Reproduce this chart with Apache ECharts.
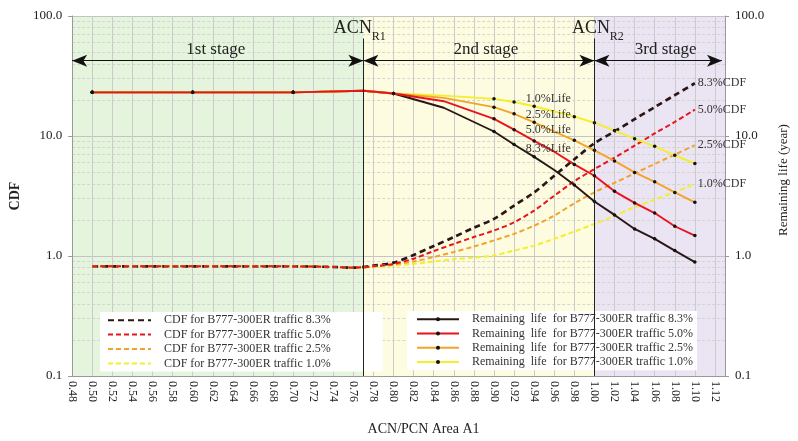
<!DOCTYPE html>
<html><head><meta charset="utf-8">
<script src="https://cdn.jsdelivr.net/npm/echarts@6/dist/echarts.min.js"></script>
<style>html,body{margin:0;padding:0;background:#fff}#c{width:798px;height:441px}</style>
</head><body><div id="c"></div>
<script>
const FONT = "'Liberation Serif','Times New Roman',serif";

// ---- data ----
const cdfX   = [0.50,0.60,0.70,0.74,0.76,0.78,0.80,0.82,0.84,0.86,0.88,0.90,0.92,0.94,0.96,0.98,1.00,1.02,1.04,1.06,1.08,1.10];
const cdf83  = [0.82,0.82,0.82,0.81,0.80,0.83,0.88,1.02,1.21,1.44,1.72,2.04,2.63,3.39,4.66,6.4,8.7,10.9,13.8,17.4,21.9,27.5];
const cdf50  = [0.82,0.82,0.82,0.81,0.80,0.82,0.86,0.95,1.10,1.26,1.44,1.63,1.91,2.39,3.18,4.2,5.3,6.6,8.3,10.5,13.1,16.6];
const cdf25  = [0.82,0.82,0.82,0.81,0.80,0.82,0.85,0.90,0.98,1.08,1.20,1.35,1.53,1.79,2.17,2.75,3.39,4.07,4.88,5.85,7.0,8.4];
const cdf10  = [0.82,0.82,0.82,0.81,0.80,0.81,0.83,0.86,0.90,0.94,0.97,1.01,1.11,1.22,1.39,1.60,1.85,2.16,2.55,2.95,3.4,3.97];

const lifeX  = [0.50,0.60,0.70,0.77,0.80,0.85,0.90,0.92,0.94,0.96,0.98,1.00,1.02,1.04,1.06,1.08,1.10];
const life83 = [23.1,23.1,23.1,23.8,22.6,17.2,10.9,8.5,6.7,5.2,3.9,2.85,2.2,1.68,1.39,1.11,0.89];
const life50 = [23.1,23.1,23.1,23.8,22.6,19.5,13.9,11.3,9.1,7.4,5.8,4.66,3.46,2.77,2.28,1.77,1.48];
const life25 = [23.1,23.1,23.1,23.8,22.6,20.8,17.4,15.3,13.0,10.9,9.2,7.6,6.2,4.97,4.15,3.39,2.80];
const life10 = [23.1,23.1,23.1,23.8,22.6,21.7,20.4,19.2,17.7,16.0,14.5,12.9,11.1,9.5,8.2,6.9,5.9];
const lifeNoDotX = [0.77,0.85,0.96];

const cdfNames  = ['CDF for B777-300ER traffic 8.3%','CDF for B777-300ER traffic 5.0%','CDF for B777-300ER traffic 2.5%','CDF for B777-300ER traffic 1.0%'];
const lifeNames = ['Remaining  life  for B777-300ER traffic 8.3%','Remaining  life  for B777-300ER traffic 5.0%','Remaining  life  for B777-300ER traffic 2.5%','Remaining  life  for B777-300ER traffic 1.0%'];
const cdfEndLabels = ['8.3%CDF','5.0%CDF','2.5%CDF','1.0%CDF'];
const lifeLabels = ['1.0%Life','2.5%Life','5.0%Life','8.3%Life'];
const lifeLabelX = 0.954;
const lifeLabelY = [20.5,14.9,11.2,7.75];

const stageLabels = ['1st stage','2nd stage','3rd stage'];
const stageLabelX = [0.623,0.892,1.071];
const stageLabelY = 53;
const stageBounds = [0.48,0.77,1.00,1.127];
const arrowY = 42.4;
const acnX = [0.77,1.00];
const acnSub = ['R1','R2'];
const acnTextX = [0.7595,0.9965];
const acnSubX = [0.7852,1.0222];
const acnTextY = 78.7, acnSubY = 67.6, acnLineTop = 65;

const colors = ['#2a1616','#e8141c','#f2a42a','#f4ee2c'];
const drawOrder = [4.1, 4.4, 4.3, 4.2];   // red on top where lines coincide
const bands = [[0.48,0.77,'#e5f4dc'],[0.77,1.00,'#fdfbe0'],[1.00,1.13,'#ebe4f3']];
const minorY = [];
[0.1,1,10].forEach(d=>{for(let k=2;k<=9;k++) minorY.push(+(d*k).toFixed(2));});

// ---- build ----
const pairs = (xs, ys) => xs.map((x,i)=>[x,ys[i]]);
const series = [];

series.push({
  type:'line', data:[], silent:true, z:0,
  markArea:{silent:true, z:0, itemStyle:{opacity:1},
    data: bands.map(b=>[{xAxis:b[0], itemStyle:{color:b[2]}},{xAxis:b[1]}])},
  markLine:{silent:true, z:1, symbol:'none', label:{show:false},
    lineStyle:{color:'#cdcdcd', width:0.8, type:[3,2]},
    data: minorY.map(v=>({yAxis:v}))}
});

[cdf83,cdf50,cdf25,cdf10].forEach((ys,i)=>{
  series.push({
    name:cdfNames[i], type:'line', yAxisIndex:0, data:pairs(cdfX,ys),
    symbol:'none', smooth:0.3, z:drawOrder[i]-1, color:colors[i],
    lineStyle:{color:colors[i], width: i===0?2.7:2, type: i===0?[6,4]:[5,3]},
    endLabel:{show:true, formatter:cdfEndLabels[i], color:'#333', fontFamily:FONT, fontSize:12, distance:3}
  });
});

[life83,life50,life25,life10].forEach((ys,i)=>{
  series.push({
    name:lifeNames[i], type:'line', yAxisIndex:1, data:pairs(lifeX,ys),
    symbol:'circle', showAllSymbol:true,
    symbolSize:(v)=> lifeNoDotX.some(x=>Math.abs(x-v[0])<1e-6) ? 0 : 3.5,
    z:drawOrder[i], color:colors[i],
    itemStyle:{color:'#111'},
    lineStyle:{color:colors[i], width:1.9}
  });
});

const txt = (coord, text, size, extra) => ({
  coord, symbol:'rect', symbolSize:1, itemStyle:{color:'rgba(0,0,0,0)'},
  label:Object.assign({show:true, position:'inside', formatter:text, color:'#222', fontFamily:FONT, fontSize:size}, extra||{})
});
const annPoints = [];
lifeLabels.forEach((t,i)=>annPoints.push(txt([lifeLabelX, lifeLabelY[i]], t, 12, {color:'#333'})));
stageLabels.forEach((t,i)=>annPoints.push(txt([stageLabelX[i], stageLabelY], t, 17)));
acnX.forEach((x,i)=>{
  annPoints.push(txt([acnTextX[i], acnTextY], 'ACN', 18));
  annPoints.push(txt([acnSubX[i], acnSubY], acnSub[i], 12));
});

const lines = [];
for (let i=0;i<3;i++) lines.push([{coord:[stageBounds[i],arrowY]},{coord:[stageBounds[i+1],arrowY]}]);
const vlines = acnX.map(x=>[{coord:[x,acnLineTop]},{coord:[x,0.1]}]);

series.push({
  type:'line', data:[], z:5, silent:true,
  markPoint:{silent:true, data:annPoints},
  markLine:{silent:true, symbol:['arrow','arrow'], symbolSize:[9,15], label:{show:false},
    lineStyle:{color:'#111', width:1.2, type:'solid'}, data:lines}
});
series.push({
  type:'line', data:[], z:5, silent:true,
  markLine:{silent:true, symbol:'none', label:{show:false},
    lineStyle:{color:'#222', width:1, type:'solid'}, data:vlines}
});

const yAxisCommon = {
  type:'log', logBase:10, min:0.1, max:100, z:1,
  axisLine:{show:true, lineStyle:{color:'#999'}},
  axisTick:{show:true, length:4, lineStyle:{color:'#999'}},
  splitLine:{show:true, lineStyle:{color:'#c4c4c4', width:1}},
  axisLabel:{formatter:v=>(+v).toFixed(1), color:'#222', fontFamily:FONT, fontSize:13, margin:10},
  nameLocation:'middle', nameRotate:90
};

const option = {
  animation:false,
  backgroundColor:'#fff',
  grid:{left:72, right:68, top:16, bottom:63, containLabel:false},
  legend:[
    {data:cdfNames.map(n=>({name:n, itemStyle:{opacity:0}})), orient:'vertical', left:100, top:312, selectedMode:false,
     itemWidth:43, itemHeight:6, itemGap:0, backgroundColor:'#fff', padding:[1,52,1,7],
     textStyle:{fontFamily:FONT, fontSize:12, color:'#333', lineHeight:14.4, padding:[0,0,0,8]}},
    {data:lifeNames, orient:'vertical', left:407, top:311, selectedMode:false,
     itemWidth:42, itemHeight:5, itemGap:0, backgroundColor:'#fff', padding:[1,4,1,9],
     textStyle:{fontFamily:FONT, fontSize:12, color:'#333', lineHeight:14.3, padding:[0,0,0,8]}}
  ],
  xAxis:{
    type:'value', min:0.48, max:1.13, interval:0.02, z:1,
    axisLine:{show:true, lineStyle:{color:'#999'}},
    axisTick:{show:false},
    splitLine:{show:true, lineStyle:{color:'#cbcbcb', width:1}},
    axisLabel:{rotate:-90, margin:5, color:'#222', fontFamily:FONT, fontSize:12, showMaxLabel:false,
      formatter:v=> Math.abs(v-1.13)<1e-6 ? '' : (+v).toFixed(2)},
    name:'ACN/PCN Area A1', nameLocation:'middle', nameGap:46,
    nameTextStyle:{fontFamily:FONT, fontSize:14, color:'#222', padding:[0,0,0,50]}
  },
  yAxis:[
    Object.assign({}, yAxisCommon, {position:'left', name:'CDF', nameGap:38,
      nameTextStyle:{fontFamily:FONT, fontSize:14, color:'#222', fontWeight:'bold'}}),
    Object.assign({}, yAxisCommon, {position:'right', name:'Remaining life (year)', nameGap:52,
      splitLine:{show:false},
      nameTextStyle:{fontFamily:FONT, fontSize:13, color:'#222', padding:[0,0,0,32]}})
  ],
  series
};

const chart = echarts.init(document.getElementById('c'));
chart.setOption(option);
</script></body></html>
